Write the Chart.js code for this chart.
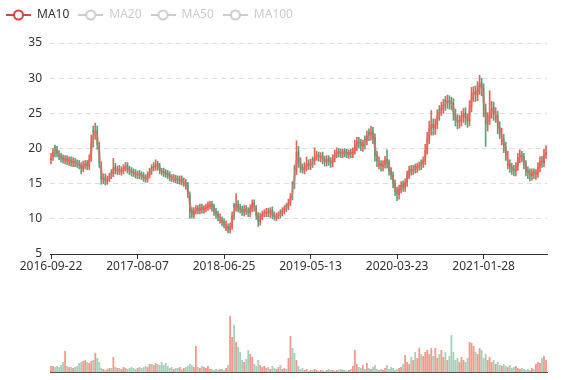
<!DOCTYPE html>
<html><head><meta charset="utf-8">
<script src="https://cdn.jsdelivr.net/npm/chart.js@4.4.1/dist/chart.umd.min.js"></script>
<style>
html,body{margin:0;padding:0;background:#fff;}
#wrap{position:relative;width:577px;height:380px;overflow:hidden;background:#fff;}
#price{position:absolute;left:0;top:0;}
#vol{position:absolute;left:0;top:290px;}
</style></head><body>
<div id="wrap"><canvas id="price" width="577" height="284"></canvas><canvas id="vol" width="577" height="90"></canvas></div>
<script>
// x-axis tick labels (one every tickEvery weekly candles)
const tickLabels = ['2016-09-22','2017-08-07','2018-06-25','2019-05-13','2020-03-23','2021-01-28'];
const tickEvery = 43;
const legendNames = ['MA10','MA20','MA50','MA100'];
const maWindow = 2; // 2 weekly candles ~ 10 trading days

const opens = [18.4,18.8,20.2,19.9,19.2,18.9,18.7,18.3,18.6,18.1,
18.3,17.9,18.2,17.9,17.8,17.6,17.1,17.6,17.9,17.4,
18.6,22.6,22.1,22.6,20.3,17.6,15.5,15.9,15.3,15.7,
16.7,16.4,17.4,16.8,17.1,16.7,16.8,17.3,17.6,17.1,
16.9,16.7,16.6,16.2,16.5,16.3,16.2,15.9,15.6,16.2,
17.4,17.3,17.4,17.9,17.5,16.8,16.8,16.6,16.5,16.3,
15.9,15.5,15.8,15.7,15.4,15.7,14.9,15.2,14.8,13.4,
11.2,10.5,11.2,11.5,11.1,11.7,11.2,11.4,11.6,11.8,
12.1,11.7,11.1,10.7,9.7,9.9,9.6,8.6,8.9,8.4,
8.9,12.0,11.6,12.1,11.6,11.4,10.9,11.5,11.2,10.8,
11.4,12.3,11.5,10.5,9.5,10.3,10.8,10.8,11.1,10.7,
11.3,10.6,10.2,10.5,11.0,10.8,11.1,12.0,11.7,12.3,
15.2,17.3,16.8,19.6,18.1,17.3,16.9,17.3,17.9,17.5,
18.5,18.2,18.9,19.1,18.7,19.0,18.5,18.0,18.6,18.3,
17.9,18.5,19.2,19.6,19.5,19.2,19.6,19.5,19.1,19.5,
19.2,19.7,20.4,21.0,20.9,20.3,21.4,21.1,22.3,21.9,
22.4,21.6,19.1,17.6,17.9,17.4,17.7,18.5,18.0,16.9,
16.3,15.1,14.0,13.4,14.2,14.9,14.4,15.1,16.2,17.1,
16.8,17.5,17.2,17.5,18.1,17.8,18.2,19.7,21.4,22.8,
23.5,22.8,23.4,25.6,25.5,25.7,26.9,26.5,26.9,26.6,
26.5,24.9,24.1,23.7,23.9,24.5,25.1,24.3,23.8,25.9,
27.7,28.1,27.5,28.5,29.4,28.6,25.6,23.4,24.2,25.1,
25.9,24.3,24.7,23.1,21.0,21.4,20.3,17.5,17.9,17.4,
17.1,16.7,17.4,18.6,19.1,18.9,17.9,16.9,16.6,16.1,
16.7,16.3,16.4,17.3,18.3,17.9,19.1];

const closes = [18.7,19.5,20.0,19.3,18.9,18.6,18.4,18.5,18.2,18.3,
18.0,18.2,17.9,17.8,17.6,17.2,17.7,17.8,17.5,18.5,
21.0,22.3,22.5,20.5,17.8,15.6,15.8,15.4,15.6,16.0,
16.5,17.3,16.9,17.0,16.8,16.9,17.2,17.5,17.0,16.8,
16.6,16.5,16.3,16.4,16.2,16.1,15.8,15.7,16.3,16.8,
17.2,17.5,17.8,17.4,16.9,16.7,16.5,16.4,16.2,15.9,
15.8,15.7,15.6,15.5,15.6,15.3,15.1,14.7,13.5,11.0,
10.6,11.1,11.4,11.2,11.6,11.3,11.5,11.7,11.9,12.0,
11.6,11.0,10.6,10.2,9.9,9.5,9.2,8.8,8.5,8.9,
10.5,11.7,12.0,11.5,11.3,11.0,11.4,11.1,10.9,11.5,
12.2,11.6,10.4,9.6,10.4,10.7,10.9,11.0,10.8,11.2,
10.5,10.3,10.4,10.6,10.9,11.2,11.5,11.8,12.4,13.2,
14.8,17.0,19.5,18.0,17.2,17.0,17.4,17.8,17.6,17.9,
18.3,18.8,19.0,18.8,18.9,18.4,18.1,18.5,18.2,18.0,
18.6,19.3,19.5,19.4,19.3,19.5,19.4,19.2,19.4,19.3,
19.6,20.5,20.9,20.8,20.4,20.6,21.2,21.8,22.0,22.3,
21.5,19.0,18.2,17.8,17.5,17.8,18.4,17.9,16.8,16.2,
15.0,13.9,13.5,14.3,14.8,14.5,15.2,16.3,17.0,16.9,
17.1,17.3,17.4,17.6,17.9,18.3,19.8,21.5,23.0,23.4,
22.9,23.5,24.8,25.4,25.8,26.2,26.6,26.8,26.5,26.4,
24.8,24.0,23.8,24.0,24.6,25.0,24.2,23.9,26.0,27.8,
28.0,27.6,28.6,29.3,28.5,25.5,23.5,24.3,25.2,25.8,
25.0,24.6,23.0,22.2,21.3,20.2,19.0,17.8,17.3,17.0,
16.8,17.5,18.7,19.0,18.8,17.8,16.8,16.5,16.2,16.6,
16.4,16.5,17.4,18.2,18.0,19.2,19.5];

const highs = [19.3,20.0,20.5,20.3,19.7,19.3,19.1,19.0,19.0,18.8,
18.8,18.7,18.6,18.4,18.3,18.0,18.2,18.3,18.3,19.1,
21.9,23.2,23.6,23.2,20.9,18.1,16.4,16.4,16.1,16.5,
17.0,18.6,17.9,17.5,17.6,17.4,17.7,18.0,18.0,17.5,
17.3,17.1,17.0,16.8,16.9,16.7,16.6,16.3,16.7,17.2,
17.7,18.0,18.4,18.2,17.9,17.2,17.2,17.0,16.9,16.7,
16.3,16.3,16.2,16.1,16.1,16.1,15.8,15.6,15.2,13.8,
11.6,11.6,11.9,11.9,12.1,12.1,11.9,12.1,12.4,12.5,
12.5,12.1,11.5,11.1,10.7,10.3,10.0,9.7,9.3,9.4,
11.0,12.2,13.6,12.6,12.1,11.8,11.9,11.9,11.6,12.0,
12.7,12.7,11.9,10.9,10.8,11.1,11.3,11.5,11.5,11.6,
11.7,11.0,10.8,11.0,11.3,11.6,11.9,12.2,12.8,13.6,
15.3,17.6,21.1,20.3,18.7,17.8,18.0,18.8,18.4,18.5,
18.8,20.1,19.6,19.5,19.4,19.5,18.9,19.0,19.0,18.7,
19.1,19.8,20.1,20.0,19.9,19.9,20.0,19.9,19.8,19.9,
20.1,21.2,21.6,21.6,21.3,21.2,21.8,22.5,22.8,23.2,
23.0,22.1,19.6,18.8,18.3,18.3,18.9,19.8,18.4,17.3,
16.7,15.5,14.5,14.8,15.3,15.4,15.7,16.8,17.5,17.6,
17.6,17.8,17.9,18.1,18.4,18.8,20.6,22.3,23.9,25.4,
24.2,24.2,25.5,26.1,26.6,27.0,27.4,27.6,27.5,27.3,
27.1,25.6,24.8,24.7,25.3,25.7,25.8,24.9,26.8,28.7,
28.8,28.9,29.5,30.4,30.0,29.2,26.3,25.1,28.2,26.7,
26.6,25.8,25.3,23.8,22.9,22.0,20.9,19.6,18.4,17.9,
17.6,18.0,19.3,19.8,19.6,19.3,18.3,17.4,17.1,17.1,
17.1,17.0,18.0,18.8,18.9,19.9,20.4];

const lows = [17.8,18.3,18.8,18.8,18.4,18.1,17.9,17.8,17.7,17.6,
17.5,17.4,17.4,17.3,17.1,16.4,16.7,17.1,17.0,17.0,
18.2,20.2,21.3,19.9,17.3,14.9,15.0,14.8,14.9,15.3,
15.7,16.0,16.4,16.3,16.3,16.2,16.4,16.8,16.5,16.3,
16.1,16.0,15.8,15.7,15.7,15.6,15.3,15.2,15.2,15.8,
16.3,16.8,16.9,16.9,16.4,16.2,16.0,15.9,15.7,15.4,
15.3,15.2,15.1,15.0,14.9,14.8,14.6,14.2,13.0,10.1,
10.1,10.1,10.7,10.7,10.7,10.8,10.8,11.0,11.2,11.4,
11.1,10.5,10.1,9.7,9.4,9.0,8.7,8.3,8.0,8.0,
8.5,9.9,11.1,11.0,10.8,10.5,10.4,10.6,10.3,10.3,
11.0,11.1,9.9,8.9,9.1,9.9,10.3,10.3,10.3,10.2,
10.0,9.8,9.7,10.0,10.1,10.4,10.7,11.0,11.3,11.9,
12.7,14.3,16.3,17.3,16.6,16.5,16.4,16.8,17.0,17.0,
17.3,17.7,18.3,18.2,18.1,17.8,17.5,17.5,17.6,17.3,
17.4,18.1,18.7,18.8,18.7,18.7,18.8,18.7,18.6,18.7,
18.7,19.2,19.7,20.1,19.7,19.6,19.9,20.5,21.1,21.2,
20.7,18.2,17.4,17.1,16.8,16.8,17.2,17.2,16.2,15.6,
14.4,13.3,12.6,12.8,13.7,13.9,13.9,14.6,15.7,16.2,
16.3,16.5,16.6,16.9,17.0,17.3,17.7,19.2,20.7,21.9,
21.9,22.0,22.8,24.0,24.7,25.0,25.4,25.7,25.6,25.5,
24.0,23.2,22.8,22.9,23.2,23.7,23.4,23.0,23.2,25.2,
26.7,26.7,26.8,27.7,27.5,24.5,20.3,22.5,23.4,24.3,
24.0,23.7,22.1,21.4,20.5,19.4,18.3,17.1,16.6,16.3,
16.1,16.1,16.9,18.0,18.1,17.1,16.1,15.7,15.4,15.5,
15.7,15.6,15.9,16.7,17.3,17.4,18.6];

const volumes = [6,6,5,6,5,7,10,21,6,5,
5,4,5,6,9,10,11,12,10,9,
11,12,19,14,10,4,3,2,3,4,
4,15,5,4,4,3,5,4,3,4,
5,4,3,4,5,4,5,6,5,8,
8,7,9,8,7,10,7,9,6,4,
5,3,4,4,5,3,4,5,6,8,
7,5,26,5,4,6,5,4,6,3,
3,2,3,2,3,3,2,4,7,56,
35,47,30,25,20,12,10,13,22,18,
15,8,6,12,7,5,6,4,5,3,
6,4,3,5,7,3,4,3,14,36,
24,19,12,6,3,4,2,3,1,2,
2,3,2,1,2,2,1,2,3,2,
2,1,2,2,3,2,2,1,2,3,
6,22,8,5,4,7,3,9,4,3,
5,7,3,2,3,2,4,7,3,5,
4,2,3,4,5,8,17,10,8,15,
12,20,14,24,18,16,20,22,18,24,
16,24,14,18,22,15,20,12,16,37,
20,12,14,10,15,12,10,14,30,29,
26,20,18,24,22,14,18,12,15,10,
12,8,10,7,6,8,6,5,7,4,
5,6,4,3,4,3,2,3,2,4,
3,8,10,9,14,16,12];

const FONT = 'Noto Sans';
const upColor = 'rgba(226,84,70,0.9)';
const downColor = 'rgba(62,148,100,0.85)';
const upVol = 'rgba(232,100,80,0.65)';
const downVol = 'rgba(80,160,118,0.5)';

const idx = closes.map((_, i) => i);
const isUp = closes.map((c, i) => c >= opens[i]);
const ma = closes.map((_, i) => {
  if (i < maWindow - 1) return null;
  let s = 0; for (let k = 0; k < maWindow; k++) s += closes[i - k];
  return +(s / maWindow).toFixed(2);
});

function makeIcon(color) {
  const c = document.createElement('canvas'); c.width = 25; c.height = 14;
  const g = c.getContext('2d');
  g.strokeStyle = color; g.lineWidth = 2;
  g.beginPath(); g.moveTo(0, 7); g.lineTo(25, 7); g.stroke();
  g.beginPath(); g.arc(12.5, 7, 4.5, 0, Math.PI * 2); g.fillStyle = '#fff'; g.fill(); g.stroke();
  return c;
}
const iconOn = makeIcon('#d4453c');
const iconOff = makeIcon('#cccccc');

new Chart(document.getElementById('price'), {
  type: 'bar',
  data: {
    labels: idx,
    datasets: [
      { type: 'line', label: 'MA10', data: ma, borderColor: 'rgba(232,110,105,0.6)', borderWidth: 2.5,
        pointRadius: 0, tension: 0.35, fill: false, order: 0 },
      { label: 'body', data: opens.map((o, i) => [o, closes[i]]),
        backgroundColor: isUp.map(u => u ? upColor : downColor),
        barPercentage: 0.7, categoryPercentage: 1, grouped: false, order: 1 },
      { label: 'wick', data: lows.map((l, i) => [l, highs[i]]),
        backgroundColor: isUp.map(u => u ? upColor : downColor),
        barThickness: 1, grouped: false, order: 2 }
    ]
  },
  options: {
    responsive: false, animation: false, events: [],
    layout: { padding: { left: -3, right: 30, top: 0, bottom: 0 } },
    plugins: {
      tooltip: { enabled: false },
      title: { display: true, text: '', weight: 500, padding: 0, font: { size: 10, lineHeight: 1.2 } },
      legend: {
        display: true, position: 'top', align: 'start',
        labels: {
          usePointStyle: true, pointStyleWidth: 25, boxHeight: 12, padding: 9,
          font: { family: FONT, size: 12 },
          generateLabels: () => legendNames.map((n, i) => ({
            text: n, pointStyle: i === 0 ? iconOn : iconOff,
            fontColor: i === 0 ? '#333' : '#ccc', hidden: false, lineWidth: 0,
            strokeStyle: 'rgba(0,0,0,0)', fillStyle: 'rgba(0,0,0,0)'
          }))
        },
        onClick: () => {}
      }
    },
    scales: {
      x: {
        offset: true,
        grid: { display: true, drawOnChartArea: false, drawTicks: true, tickLength: 5, color: '#333', offset: false },
        border: { display: true, color: '#333', width: 1 },
        ticks: { autoSkip: false, maxRotation: 0, padding: 0, color: '#333', font: { family: FONT, size: 12 },
          callback: (v) => tickLabels[v / tickEvery] },
        afterBuildTicks: (s) => { s.ticks = s.ticks.filter(t => t.value % tickEvery === 0); },
        afterFit: (s) => { s.height = 30; }
      },
      y: {
        min: 5, max: 35,
        grid: { color: '#dedede', drawTicks: false, lineWidth: 1 },
        border: { display: false, dash: [5, 4] },
        ticks: { stepSize: 5, padding: 8, color: '#333', font: { family: FONT, size: 12 } },
        afterFit: (s) => { s.width = 53; }
      }
    }
  }
});

new Chart(document.getElementById('vol'), {
  type: 'bar',
  data: {
    labels: idx,
    datasets: [{ data: volumes, backgroundColor: isUp.map(u => u ? upVol : downVol),
      barPercentage: 0.9, categoryPercentage: 1 }]
  },
  options: {
    responsive: false, animation: false, events: [],
    layout: { padding: { left: 50, right: 30, top: 10, bottom: 8 } },
    plugins: { legend: { display: false }, tooltip: { enabled: false } },
    scales: {
      x: { offset: true, grid: { display: false }, ticks: { display: false },
        border: { display: true, color: '#555', width: 1 },
        afterFit: (s) => { s.height = 0; } },
      y: { display: false, min: 0, max: 72 }
    }
  }
});
</script>
</body></html>
